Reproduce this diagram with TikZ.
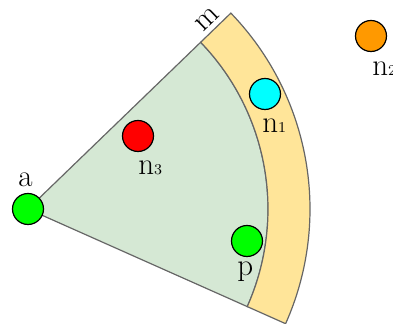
\documentclass[tikz,border=0pt]{standalone}
\usepackage{tikz}
\usetikzlibrary{positioning,calc}
\usepackage{xcolor}
\definecolor{sect}{RGB}{213,232,212}
\definecolor{band}{RGB}{255,229,153}
\definecolor{edge}{RGB}{102,102,102}
\definecolor{lime}{RGB}{0,255,0}
\definecolor{aqua}{RGB}{0,255,255}
\definecolor{orng}{RGB}{255,153,0}
\newcommand{\nd}[1]{n{\fontsize{7.5}{8}\selectfont #1}}

\begin{document}
\begin{tikzpicture}[x=0.5pt, y=0.5pt, font=\fontsize{15.5}{18}\selectfont,
  pt/.style={draw,circle,line width=0.6pt,minimum size=15.5pt,inner sep=0pt},
  lbl/.style={inner sep=0pt,anchor=base west},
  reg/.style={draw=edge,line width=0.6pt}]
\useasboundingbox (0,0) rectangle (393,-324);
\coordinate (o) at (28,-209);
% sector and outer band
\filldraw[reg,fill=sect] (o) -- ([shift={(44:240)}]o) arc[start angle=44,end angle=-24,radius=240] -- cycle;
\filldraw[reg,fill=band] ([shift={(44:240)}]o) -- ([shift={(44:282)}]o) arc[start angle=44,end angle=-24,radius=282]
  -- ([shift={(-24:240)}]o) arc[start angle=-24,end angle=44,radius=240] -- cycle;
\node[rotate=44] (m) at (207,-19) {m};
% points
\node[pt,fill=lime] (a) at (o) {};
\node[pt,fill=red] (n3) at (138,-136) {};
\node[pt,fill=aqua] (n1) at (265,-94) {};
\node[pt,fill=orng] (n2) at (371,-36) {};
\node[pt,fill=lime] (p) at (247,-241) {};
\node[lbl] (al) at (18,-187) {a};
\node[lbl] (n3l) at (138,-175) {\nd{3}};
\node[lbl] (n1l) at (262,-133) {\nd{1}};
\node[lbl] (n2l) at (372,-76) {\nd{2}};
\node[lbl] (pl) at (237,-276) {p};
\end{tikzpicture}
\end{document}
